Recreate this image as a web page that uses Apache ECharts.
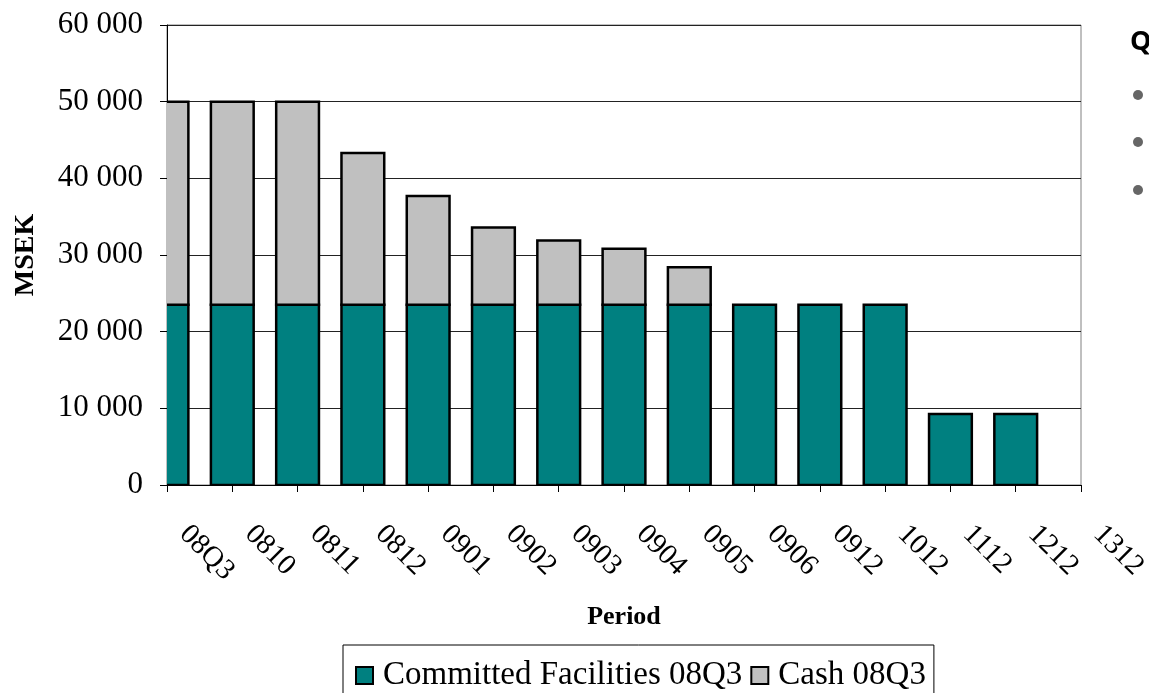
<!DOCTYPE html>
<html>
<head>
<meta charset="utf-8">
<title>Committed Facilities and Cash</title>
<script src="https://cdn.jsdelivr.net/npm/echarts@6/dist/echarts.min.js"></script>
<style>
  html, body { margin: 0; padding: 0; background: #fff; }
  #chart { width: 1149px; height: 693px; }
</style>
</head>
<body>
<div id="chart"></div>
<script>
// Liquidity reserve by period (MSEK)
const periods = ['08Q3', '0810', '0811', '0812', '0901', '0902', '0903', '0904', '0905', '0906', '0912', '1012', '1112', '1212', '1312'];
const committedFacilities = [23500, 23500, 23500, 23500, 23500, 23500, 23500, 23500, 23500, 23500, 23500, 23500, 9250, 9250, null];
const cash = [26500, 26500, 26500, 19800, 14200, 10100, 8400, 7300, 4900, null, null, null, null, null, null];
const seriesNames = ['Committed Facilities 08Q3', 'Cash 08Q3'];
const bulletRows = [95, 142, 190];

const serif = '"Liberation Serif", "Times New Roman", serif';
const colors = { committed: '#008080', cash: '#c0c0c0' };

// Stacked segments as [categoryIndex, base, top]; bars sit on the tick marks
// and are clipped to the plot area.
const committedSegments = [];
const cashSegments = [];
periods.forEach((p, i) => {
  const c = committedFacilities[i];
  if (c != null) committedSegments.push([i, 0, c]);
  const k = cash[i];
  if (k != null) cashSegments.push([i, c || 0, (c || 0) + k]);
});

function renderSegment(params, api) {
  const i = api.value(0);
  const bottom = api.coord([i, api.value(1)]);
  const top = api.coord([i, api.value(2)]);
  const w = api.size([1, 0])[0] * 0.655;
  return {
    type: 'rect',
    shape: { x: bottom[0] - w / 2, y: top[1], width: w, height: bottom[1] - top[1] },
    style: { fill: api.visual('color'), stroke: '#000', lineWidth: 2.5 }
  };
}

const chart = echarts.init(document.getElementById('chart'), null, { renderer: 'canvas' });

chart.setOption({
  animation: false,
  backgroundColor: '#ffffff',
  grid: {
    left: 167, right: 68, top: 25, bottom: 208,
    outerBoundsMode: 'none',
    show: true, borderColor: '#808080', borderWidth: 1, backgroundColor: 'transparent'
  },
  xAxis: {
    type: 'category',
    data: periods,
    boundaryGap: false,
    name: 'Period',
    nameLocation: 'middle',
    nameGap: 119,
    nameTextStyle: { fontFamily: serif, fontSize: 26, fontWeight: 'bold', color: '#000' },
    axisLine: { lineStyle: { color: '#000', width: 1 } },
    axisTick: { show: true, length: 7, alignWithLabel: true, lineStyle: { color: '#000' } },
    axisLabel: {
      interval: 0, rotate: -45, margin: 28,
      padding: [0, 0, 0, 24],
      fontFamily: serif, fontSize: 29, color: '#000'
    },
    splitLine: { show: false }
  },
  yAxis: {
    type: 'value',
    min: 0, max: 60000, interval: 10000,
    name: 'MSEK',
    nameLocation: 'middle',
    nameGap: 127,
    nameRotate: 90,
    nameTextStyle: { fontFamily: serif, fontSize: 28, fontWeight: 'bold', color: '#000' },
    axisLine: { show: true, lineStyle: { color: '#000', width: 1 } },
    axisTick: { show: true, length: 7, lineStyle: { color: '#000' } },
    axisLabel: {
      margin: 24,
      fontFamily: serif, fontSize: 31, color: '#000',
      formatter: v => String(v).replace(/\B(?=(\d{3})+(?!\d))/g, ' ')
    },
    splitLine: { show: true, lineStyle: { color: '#222', width: 1 } }
  },
  legend: {
    data: seriesNames,
    left: 343, top: 645,
    orient: 'horizontal',
    icon: 'rect',
    itemWidth: 17, itemHeight: 17, itemGap: 8,
    padding: [14, 8, 30, 12],
    borderColor: '#000', borderWidth: 1,
    textStyle: { fontFamily: serif, fontSize: 33, color: '#000', padding: [0, 0, 0, 5] },
    itemStyle: { borderColor: '#000', borderWidth: 2 }
  },
  series: [
    {
      name: seriesNames[0], type: 'custom',
      data: committedSegments,
      encode: { x: 0, y: [1, 2] },
      clip: true,
      itemStyle: { color: colors.committed },
      renderItem: renderSegment
    },
    {
      name: seriesNames[1], type: 'custom',
      data: cashSegments,
      encode: { x: 0, y: [1, 2] },
      clip: true,
      itemStyle: { color: colors.cash },
      renderItem: renderSegment
    }
  ],
  graphic: [
    {
      type: 'text', left: 1130, top: 29,
      style: { text: 'Q', font: 'bold 27px "Open Sans", "DejaVu Sans", sans-serif', fill: '#000' }
    }
  ].concat(bulletRows.map(y => ({
    type: 'circle',
    shape: { cx: 1138, cy: y, r: 5 },
    style: { fill: '#666666' }
  })))
});
</script>
</body>
</html>
